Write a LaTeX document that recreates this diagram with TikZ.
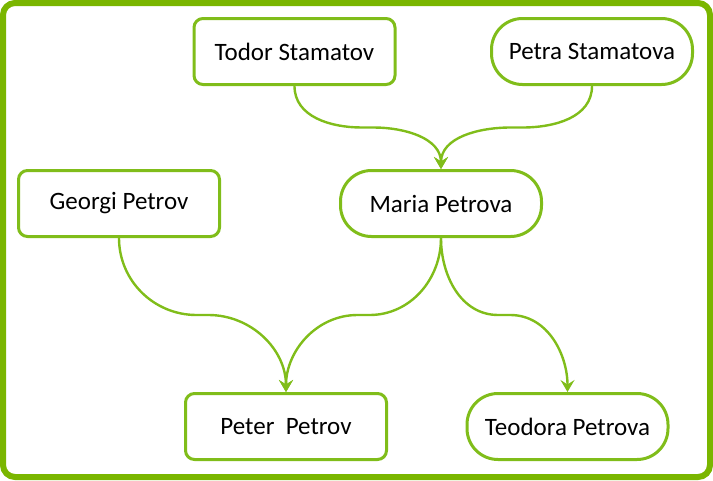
\documentclass[tikz,border=0pt]{standalone}
\usepackage{fontspec}
\setmainfont{Carlito}
\usetikzlibrary{arrows.meta,calc}
\definecolor{framegreen}{RGB}{122,182,0}
\definecolor{nodegreen}{RGB}{128,189,26}
\tikzset{
  person/.style={draw=nodegreen, line width=3pt, fill=white,
    minimum width=201pt, minimum height=66pt, inner sep=0pt,
    font=\fontsize{25}{28}\selectfont, text=black},
  boxed/.style={person, rounded corners=9pt},
  pill/.style={person, rounded corners=31pt},
  link/.style={draw=nodegreen, line width=2.4pt,
    -{Stealth[length=12pt,width=14pt,inset=4.5pt]}},
}
% parent -> child: drop down, swing to level at half height, run a short
% flat stretch, then swing down into the child
\newcommand\rightlink[2]{%
  \draw[link] (#1.south) to[out=-90,in=180]
    ($(#1.south)!0.5!(#2.north)+(-6,0)$) --
    ($(#1.south)!0.5!(#2.north)+(6,0)$) to[out=0,in=90] (#2.north);}
\newcommand\leftlink[2]{%
  \draw[link] (#1.south) to[out=-90,in=0]
    ($(#1.south)!0.5!(#2.north)+(6,0)$) --
    ($(#1.south)!0.5!(#2.north)+(-6,0)$) to[out=180,in=90] (#2.north);}
\begin{document}
\begin{tikzpicture}[x=1pt,y=-1pt]
  \useasboundingbox (0,0) rectangle (713,480);
  \draw[framegreen, line width=6pt, rounded corners=12pt] (3,3) rectangle (710,477);

  \node[boxed] (todor)   at (294.5,51.5)  {Todor Stamatov};
  \node[pill]  (petra)   at (592,51.5)    {Petra Stamatova};
  \node[boxed] (georgi)  at (119,203.5)   {Georgi Petrov};
  \node[pill]  (maria)   at (441,203.5)   {Maria Petrova};
  \node[boxed] (peter)   at (286,426.5)   {Peter\ \ Petrov};
  \node[pill]  (teodora) at (567.5,426.5) {Teodora Petrova};

  \rightlink{todor}{maria}
  \leftlink{petra}{maria}
  \rightlink{georgi}{peter}
  \leftlink{maria}{peter}
  \rightlink{maria}{teodora}
\end{tikzpicture}
\end{document}
